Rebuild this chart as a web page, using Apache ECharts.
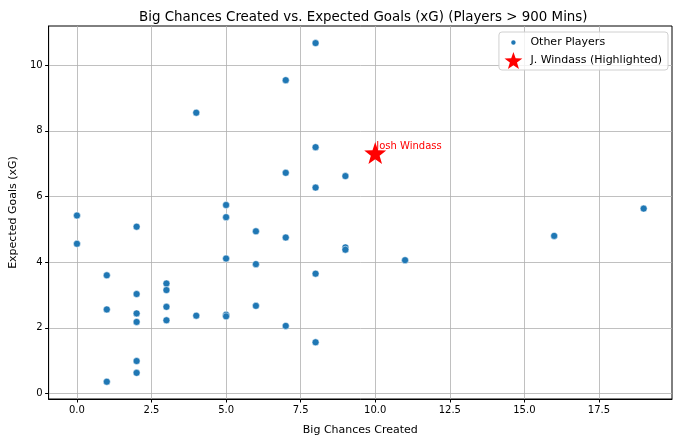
<!DOCTYPE html>
<html>
<head>
<meta charset="utf-8">
<script src="https://cdn.jsdelivr.net/npm/echarts@6/dist/echarts.min.js"></script>
<style>
  html, body { margin: 0; padding: 0; background: #fff; }
  #chart { width: 680px; height: 442px; }
</style>
</head>
<body>
<div id="chart"></div>
<script>
// big chances created (x) and xG (y) for the other players
var bigChances = [0, 0, 1, 1, 1, 2, 2, 2, 2, 2, 2, 3, 3, 3, 3, 4, 4, 5, 5, 5, 5, 5, 6, 6, 6, 7, 7, 7, 7, 8, 8, 8, 8, 8, 9, 9, 9, 11, 16, 19];
var xgValues = [5.42, 4.56, 3.60, 2.56, 0.36, 5.08, 3.03, 2.44, 2.18, 0.99, 0.63, 3.35, 3.15, 2.64, 2.23, 8.55, 2.37, 5.74, 5.37, 4.11, 2.40, 2.35, 4.94, 3.94, 2.67, 9.54, 6.72, 4.75, 2.06, 10.67, 7.50, 6.27, 3.65, 1.56, 6.62, 4.45, 4.38, 4.06, 4.80, 5.63];

var windass = [10, 7.32];
var windassName = 'Josh Windass';

var xTicks = [0, 2.5, 5, 7.5, 10, 12.5, 15, 17.5];
var yTicks = [0, 2, 4, 6, 8, 10];

var others = [];
for (var i = 0; i < bigChances.length; i++) {
    others.push([bigChances[i], xgValues[i]]);
}

var font = 'DejaVu Sans';
var gridLine = { show: true, lineStyle: { color: '#b0b0b0', width: 0.8 } };
var star = 'path://M0,-10 L2.35,-3.24 L9.51,-3.09 L3.8,1.24 L5.88,8.09 L0,4 L-5.88,8.09 L-3.8,1.24 L-9.51,-3.09 L-2.35,-3.24 Z';
// small dot for the legend: the far move/line points pad the bounding box
var smallDot = 'path://M-10,-10 L-10,-10 M10,10 L10,10 M3.8,0 A3.8,3.8 0 1,1 -3.8,0 A3.8,3.8 0 1,1 3.8,0 Z';

var myChart = echarts.init(document.getElementById('chart'));
var option = {
    backgroundColor: '#fff',
    animation: false,
    title: {
        text: 'Big Chances Created vs. Expected Goals (xG) (Players > 900 Mins)',
        left: 134,
        top: 6,
        textStyle: { fontFamily: font, fontSize: 13.4, fontWeight: 'normal', color: '#000' }
    },
    legend: {
        orient: 'vertical',
        right: 12,
        top: 32,
        backgroundColor: 'rgba(255,255,255,0.8)',
        borderColor: '#d0d0d0',
        borderWidth: 1,
        borderRadius: 3,
        padding: [1, 6, 1, 5],
        itemGap: 0,
        itemWidth: 24,
        itemHeight: 17,
        textStyle: { fontFamily: font, fontSize: 11, color: '#000' },
        data: [
            { name: 'Other Players', icon: smallDot, itemStyle: { color: '#1f77b4' } },
            { name: 'J. Windass (Highlighted)', icon: star, itemStyle: { color: 'red' } }
        ]
    },
    grid: { left: 46, right: 8, top: 26, bottom: 43, show: true, borderColor: '#000', borderWidth: 1 },
    xAxis: {
        type: 'value',
        min: -0.95,
        max: 19.95,
        name: 'Big Chances Created',
        nameLocation: 'middle',
        nameGap: 26,
        nameTextStyle: { fontFamily: font, fontSize: 11, color: '#000' },
        axisLine: { show: true, onZero: false, lineStyle: { color: '#000', width: 1 } },
        axisTick: { show: true, length: 3.5, lineStyle: { color: '#000' }, customValues: xTicks },
        axisLabel: {
            fontFamily: font, fontSize: 10, color: '#000', margin: 6,
            customValues: xTicks,
            formatter: function (v) { return v.toFixed(1); }
        },
        splitLine: gridLine
    },
    yAxis: {
        type: 'value',
        min: -0.166,
        max: 11.19,
        name: 'Expected Goals (xG)',
        nameLocation: 'middle',
        nameGap: 28,
        nameTextStyle: { fontFamily: font, fontSize: 11, color: '#000' },
        axisLine: { show: true, onZero: false, lineStyle: { color: '#000', width: 1 } },
        axisTick: { show: true, length: 3.5, lineStyle: { color: '#000' }, customValues: yTicks },
        axisLabel: {
            fontFamily: font, fontSize: 10, color: '#000', margin: 6,
            customValues: yTicks
        },
        splitLine: gridLine
    },
    series: [
        {
            name: 'Other Players',
            type: 'scatter',
            symbol: 'circle',
            symbolSize: 7,
            itemStyle: { color: '#1f77b4', borderColor: '#fff', borderWidth: 0.5, opacity: 1 },
            data: others
        },
        {
            name: 'J. Windass (Highlighted)',
            type: 'scatter',
            symbol: star,
            symbolSize: 22,
            itemStyle: { color: 'red', opacity: 1 },
            label: {
                show: true,
                position: [12, 4],
                align: 'left',
                verticalAlign: 'middle',
                formatter: windassName,
                fontFamily: font,
                fontSize: 10,
                color: 'red'
            },
            data: [windass]
        }
    ]
};
myChart.setOption(option);
</script>
</body>
</html>
